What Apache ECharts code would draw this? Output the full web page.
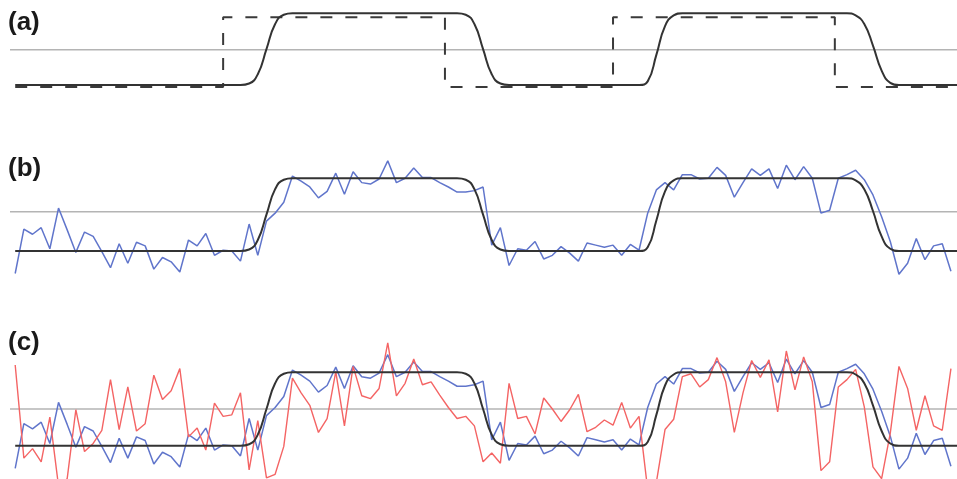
<!DOCTYPE html>
<html>
<head>
<meta charset="utf-8">
<script src="https://cdn.jsdelivr.net/npm/echarts@6/dist/echarts.min.js"></script>
<style>
html,body{margin:0;padding:0;background:#fff;}
#chart{width:957px;height:479px;}
</style>
</head>
<body>
<div id="chart"></div>
<script>
// ---- data (x = sample index, y = normalised level: 0 = low plateau, 1 = high plateau) ----
const panelLabels = ['(a)', '(b)', '(c)'];
const grayLevels = [0.49, 0.54, 0.5];

// smooth black step curve
const blackCurve = [
  [0,0],[26,0],[27,0.02],[28,0.15],[29,0.5],[30,0.85],[31,0.98],[32,1],
  [51,1],[52,0.98],[53,0.85],[54,0.5],[55,0.15],[56,0.02],[57,0],
  [72,0],[73,0.05],[74,0.42],[75,0.82],[76,0.97],[77,1],
  [96,1],[97,0.97],[98,0.85],[99,0.55],[100,0.2],[101,0.03],[102,0],[108.7,0]
];

// dashed square wave (panel a)
const squareWave = [
  [0,-0.03],[24,-0.03],[24,0.944],[49.6,0.944],[49.6,-0.03],
  [69,-0.03],[69,0.944],[94.6,0.944],[94.6,-0.03],[108.7,-0.03]
];

// blue noisy signal (panels b and c)
const blueValues = [
  -0.31,0.30,0.23,0.32,0.03,0.59,0.29,-0.02,0.26,0.20,
  -0.01,-0.23,0.10,-0.17,0.12,0.07,-0.25,-0.09,-0.15,-0.29,
  0.15,0.07,0.24,-0.06,0.01,0.00,-0.14,0.37,-0.06,0.41,
  0.52,0.67,1.03,0.96,0.88,0.73,0.82,1.07,0.78,1.09,
  0.94,0.92,0.99,1.24,0.94,1.00,1.14,1.01,1.01,0.94,
  0.88,0.81,0.81,0.83,0.88,0.08,0.32,-0.20,0.03,0.01,
  0.13,-0.11,-0.06,0.06,-0.03,-0.14,0.11,0.08,0.05,0.08,
  -0.06,0.09,0.01,0.52,0.84,0.94,0.84,1.05,1.05,0.99,
  1.00,1.15,1.04,0.74,0.94,1.13,1.04,1.13,0.86,1.18,
  0.98,1.16,1.00,0.52,0.56,1.00,1.05,1.11,0.98,0.77,
  0.47,0.13,-0.32,-0.17,0.17,-0.12,0.07,0.10,-0.28
];

// red noisier signal (panel c)
const redValues = [
  1.10,-0.17,-0.04,-0.22,0.39,-0.55,-0.45,0.49,-0.08,0.03,
  0.21,0.90,0.22,0.80,0.20,0.30,0.96,0.63,0.75,1.05,
  0.12,0.24,-0.06,0.58,0.40,0.42,0.72,-0.33,0.34,-0.44,
  -0.39,-0.01,0.92,0.72,0.55,0.18,0.37,1.01,0.27,1.08,
  0.68,0.64,0.78,1.40,0.68,0.85,1.18,0.83,0.87,0.69,
  0.52,0.37,0.40,0.27,-0.22,-0.10,-0.24,0.85,0.37,0.40,
  0.16,0.65,0.50,0.33,0.49,0.70,0.19,0.25,0.35,0.28,
  0.59,0.24,0.40,-0.60,-0.50,0.22,0.36,0.94,0.98,0.80,
  0.90,1.20,0.87,0.18,0.72,1.16,0.93,1.17,0.46,1.29,
  0.76,1.21,0.87,-0.34,-0.22,0.80,0.90,1.04,0.53,-0.29,
  -0.45,0.17,1.08,0.78,0.21,0.68,0.27,0.21,1.05
];

// ---- chart ----
const toXY = arr => arr.map((v, i) => [i, v]);
const grids = [
  {left: 10, width: 947, top: 6.1, height: 93.2},
  {left: 10, width: 947, top: 149.2, height: 138.1},
  {left: 10, width: 947, top: 335.6, height: 143.1}
];
const yRanges = [[-0.2, 1.1], [-0.5, 1.4], [-0.45, 1.5]];
const labelY = [22, 168, 342];

const xAxis = grids.map((g, i) => ({
  type: 'value', gridIndex: i, min: -0.6, max: 108.7, show: false
}));
const yAxis = grids.map((g, i) => ({
  type: 'value', gridIndex: i, min: yRanges[i][0], max: yRanges[i][1], show: false
}));

const base = {type: 'line', symbol: 'none', silent: true, animation: false, clip: false};
const series = [];
grids.forEach((g, i) => {
  series.push(Object.assign({}, base, {
    xAxisIndex: i, yAxisIndex: i,
    data: [[-0.6, grayLevels[i]], [108.7, grayLevels[i]]],
    lineStyle: {color: '#b4b4b4', width: 1.5}
  }));
});
// panel a
series.push(Object.assign({}, base, {
  xAxisIndex: 0, yAxisIndex: 0, data: squareWave,
  lineStyle: {color: '#3a3a3a', width: 2, type: [12, 13]}
}));
// panel b
series.push(Object.assign({}, base, {
  xAxisIndex: 1, yAxisIndex: 1, data: toXY(blueValues),
  lineStyle: {color: '#6075cb', width: 1.5}
}));
// panel c
series.push(Object.assign({}, base, {
  xAxisIndex: 2, yAxisIndex: 2, data: toXY(blueValues),
  lineStyle: {color: '#6075cb', width: 1.5}
}));
series.push(Object.assign({}, base, {
  xAxisIndex: 2, yAxisIndex: 2, data: toXY(redValues),
  lineStyle: {color: '#f46464', width: 1.4}
}));
// black curves on top
grids.forEach((g, i) => {
  series.push(Object.assign({}, base, {
    xAxisIndex: i, yAxisIndex: i, data: blackCurve, smooth: 0.5,
    lineStyle: {color: '#333333', width: 2}
  }));
});

const chart = echarts.init(document.getElementById('chart'), null, {renderer: 'canvas'});
chart.setOption({
  backgroundColor: '#ffffff',
  animation: false,
  grid: grids,
  xAxis: xAxis,
  yAxis: yAxis,
  series: series,
  graphic: panelLabels.map((t, i) => ({
    type: 'text', left: 8, top: labelY[i] - 12,
    style: {text: t, fontSize: 26, fontWeight: 'bold', fontFamily: 'Liberation Sans, Arial, sans-serif', fill: '#1a1a1a'}
  }))
});
</script>
</body>
</html>
